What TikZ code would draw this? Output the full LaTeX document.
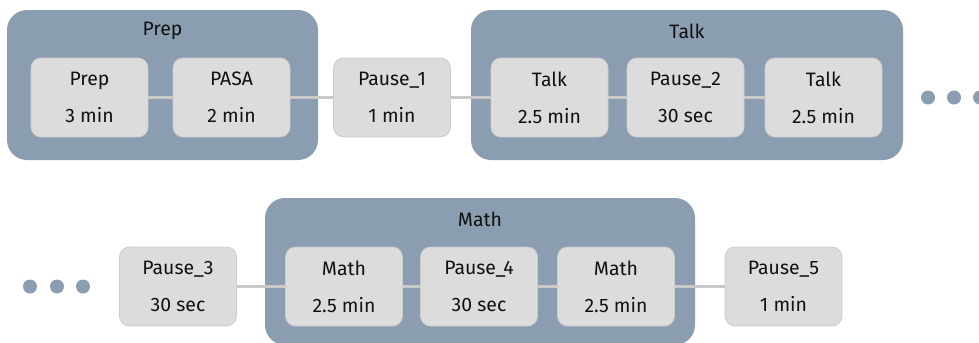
\documentclass[tikz,border=0pt]{standalone}
\usepackage{fontspec}
\setmainfont{Fira Sans}
\definecolor{groupfill}{HTML}{8B9DB0}
\definecolor{boxfill}{HTML}{DCDCDC}
\definecolor{boxline}{HTML}{CDCDCD}
\definecolor{linkline}{HTML}{C9C9C9}
\definecolor{ink}{HTML}{111111}
\begin{document}
\begin{tikzpicture}[x=1bp,y=-1bp,
  group/.style={fill=groupfill,rounded corners=20bp},
  grouptitle/.style={text=ink,font=\fontsize{19.5}{22}\selectfont,anchor=center},
  stepbox/.style={rectangle,draw=boxline,line width=0.8bp,fill=boxfill,rounded corners=10bp,
    minimum width=117bp,minimum height=79bp,inner sep=0pt,align=center,text=ink,
    font=\fontsize{19.5}{37}\selectfont,
    execute at begin node={\rule{0pt}{18bp}}},
  link/.style={draw=linkline,line width=2.2bp},
  dot/.style={circle,fill=groupfill,minimum size=14bp,inner sep=0pt}]
\useasboundingbox (0,0) rectangle (979,342);
% group panels
\fill[group] (7,10) rectangle (318,160);
\fill[group] (471,10) rectangle (903,160);
\fill[group] (265,198) rectangle (695,345);
\node[grouptitle] (tprep) at (162.5,31) {Prep};
\node[grouptitle] (ttalk) at (687,31) {Talk};
\node[grouptitle] (tmath) at (480,219) {Math};
% steps, first row
\node[stepbox] (prep)   at (89.5,97.5)  {Prep\\3 min};
\node[stepbox] (pasa)   at (231.5,97.5) {PASA\\2 min};
\node[stepbox] (pause1) at (392,97.5)   {Pause\_1\\1 min};
\node[stepbox] (talka)  at (549.5,97.5) {Talk\\2.5 min};
\node[stepbox] (pause2) at (685.5,97.5) {Pause\_2\\30 sec};
\node[stepbox] (talkb)  at (823.5,97.5) {Talk\\2.5 min};
% steps, second row
\node[stepbox] (pause3) at (178,286.5)  {Pause\_3\\30 sec};
\node[stepbox] (matha)  at (344,286.5)  {Math\\2.5 min};
\node[stepbox] (pause4) at (479,286.5)  {Pause\_4\\30 sec};
\node[stepbox] (mathb)  at (616,286.5)  {Math\\2.5 min};
\node[stepbox] (pause5) at (783.5,286.5) {Pause\_5\\1 min};
% connectors
\draw[link] (prep.east) -- (pasa.west);
\draw[link] (pasa.east) -- (pause1.west);
\draw[link] (pause1.east) -- (talka.west);
\draw[link] (talka.east) -- (pause2.west);
\draw[link] (pause2.east) -- (talkb.west);
\draw[link] (pause3.east) -- (matha.west);
\draw[link] (matha.east) -- (pause4.west);
\draw[link] (pause4.east) -- (mathb.west);
\draw[link] (mathb.east) -- (pause5.west);
% continuation dots
\node[dot] (da1) at (928,97.5) {};
\node[dot] (da2) at (954,97.5) {};
\node[dot] (da3) at (980,97.5) {};
\node[dot] (db1) at (30,286.5) {};
\node[dot] (db2) at (57,286.5) {};
\node[dot] (db3) at (83,286.5) {};
\end{tikzpicture}
\end{document}
